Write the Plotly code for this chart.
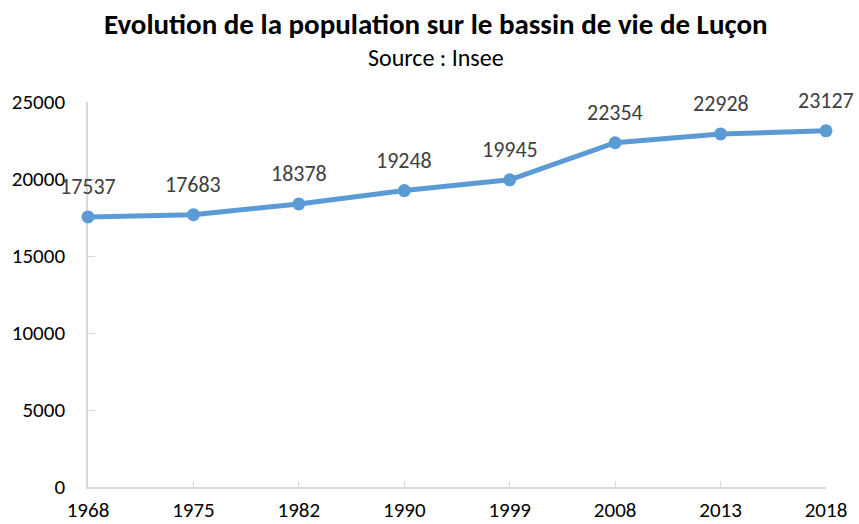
import plotly.graph_objects as go

years = ["1968", "1975", "1982", "1990", "1999", "2008", "2013", "2018"]
population = [17537, 17683, 18378, 19248, 19945, 22354, 22928, 23127]
y_ticks = [0, 5000, 10000, 15000, 20000, 25000]

FONT = "Carlito, Calibri, Lato, sans-serif"

fig = go.Figure()
fig.add_trace(go.Scatter(
    x=years, y=population, mode="lines+markers",
    line=dict(color="#5B9BD5", width=5),
    marker=dict(color="#5B9BD5", size=13),
    cliponaxis=False,
    hoverinfo="x+y",
))

for i, yv in enumerate(population):
    fig.add_annotation(x=i, y=yv, text=str(yv), showarrow=False,
                       yanchor="middle", yshift=30,
                       font=dict(family=FONT, size=22, color="#404040"))

fig.add_annotation(xref="paper", yref="paper", x=0.472, y=1.0, yshift=78,
                   yanchor="middle",
                   text="<b>Evolution de la population sur le bassin de vie de Luçon</b>",
                   showarrow=False, font=dict(family=FONT, size=29, color="#000000"))
fig.add_annotation(xref="paper", yref="paper", x=0.472, y=1.0, yshift=45,
                   yanchor="middle",
                   text="Source : Insee", showarrow=False,
                   font=dict(family=FONT, size=24, color="#000000"))

fig.update_layout(
    width=859, height=524,
    margin=dict(l=88, r=33, t=102, b=37),
    paper_bgcolor="white", plot_bgcolor="white",
    showlegend=False,
    font=dict(family=FONT, size=21, color="#000000"),
    xaxis=dict(type="category", range=[0, 7], showgrid=False, zeroline=False,
               automargin=False, layer="below traces",
               showline=True, linecolor="#D9D9D9", linewidth=1.5,
               ticks="inside", ticklen=6, tickcolor="#D9D9D9",
               tickfont=dict(family=FONT, size=21, color="#000000"),
               ticklabelstandoff=3),
    yaxis=dict(range=[0, 25000], tickvals=y_ticks, tickformat="d",
               showgrid=False, zeroline=False, automargin=False,
               layer="below traces",
               showline=True, linecolor="#D9D9D9", linewidth=1.5,
               ticks="inside", ticklen=7, tickcolor="#D9D9D9",
               tickfont=dict(family=FONT, size=21, color="#000000"),
               ticklabelstandoff=17),
)

fig.write_html("out.html", config={"displayModeBar": False},
               post_script="document.body.style.margin='0';document.body.style.overflow='hidden';")
